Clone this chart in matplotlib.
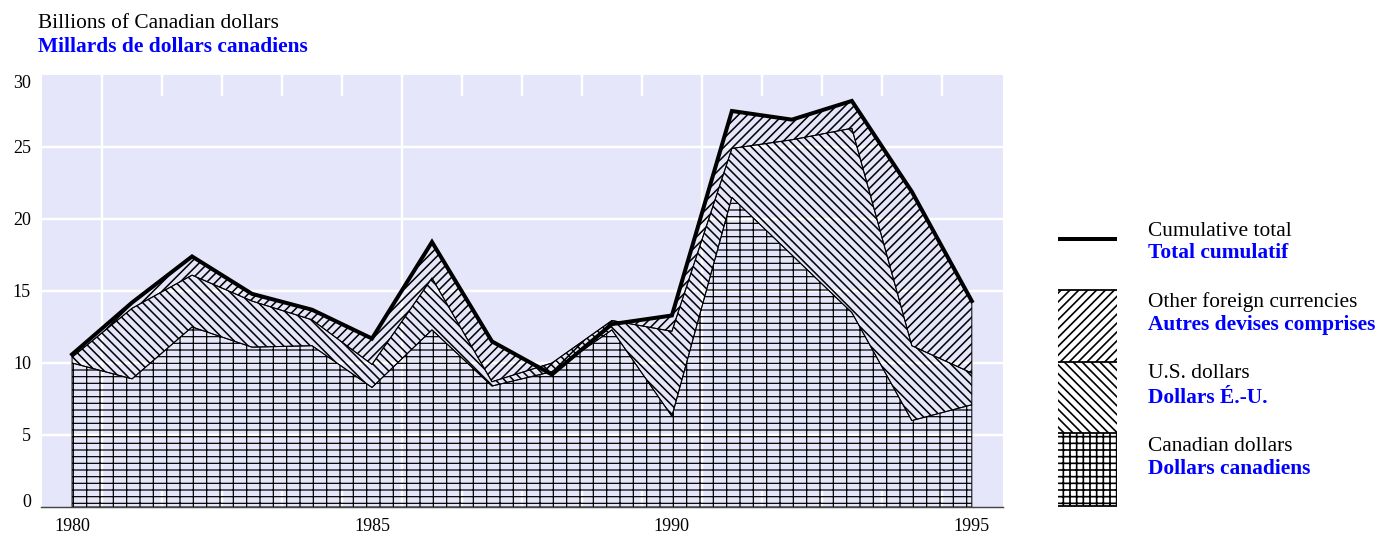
import matplotlib
matplotlib.use("Agg")
import matplotlib.pyplot as plt
from matplotlib.patches import Rectangle

# ---------------- data ----------------
years = list(range(1980, 1996))
# cumulative levels (billions of Canadian dollars)
canadian = [10.0, 8.9, 12.5, 11.1, 11.2, 8.3, 12.3, 8.4, 9.4, 12.3, 6.3, 21.5, 17.5, 13.5, 6.0, 7.1]
canadian_plus_us = [10.4, 13.8, 16.1, 14.3, 13.0, 9.9, 15.9, 8.7, 10.0, 12.95, 12.2, 24.9, 25.5, 26.3, 11.2, 9.3]
cumulative_total = [10.6, 14.2, 17.4, 14.8, 13.7, 11.7, 18.4, 11.5, 9.2, 12.7, 13.3, 27.5, 26.9, 28.2, 21.9, 14.3]

y_ticks = [0, 5, 10, 15, 20, 25, 30]
y_tick_labels = ["0", "5", "10", "15", "20", "25", "30"]
x_tick_years = [1980, 1985, 1990, 1995]
x_tick_labels = ["1980", "1985", "1990", "1995"]

title_en = "Billions of Canadian dollars"
title_fr = "Millards de dollars canadiens"
legend_en = ["Cumulative total", "Other foreign currencies", "U.S. dollars", "Canadian dollars"]
legend_fr = ["Total cumulatif", "Autres devises comprises", "Dollars É.-U.", "Dollars canadiens"]

# ---------------- style ----------------
plt.rcParams["font.family"] = ["Liberation Serif", "DejaVu Serif"]
plt.rcParams["hatch.linewidth"] = 1.2

BG = "#E6E6FA"
BLUE = "#0000FF"
DPI = 80
W, H = 1378, 537
fig = plt.figure(figsize=(W / DPI, H / DPI), dpi=DPI)
fig.patch.set_facecolor("white")

L, R, B, T = 41.5, 1003, 507, 74.5
ax = fig.add_axes([L / W, 1 - B / H, (R - L) / W, (B - T) / H])
ax.set_facecolor(BG)
ax.set_xlim(1979.49, 1995.52)
ax.set_ylim(0, 30 * (B - T) / (507 - 75))


def set_hlw(artist, hlw):
    if hasattr(artist, "set_hatch_linewidth"):
        artist.set_hatch_linewidth(hlw)


def hfill(axis, x, y1, y2, hatch, hlw, z, lw=0.9):
    with plt.rc_context({"hatch.linewidth": hlw}):
        c = axis.fill_between(x, y1, y2, facecolor="none", edgecolor="black",
                              hatch=hatch, lw=lw, zorder=z)
    set_hlw(c, hlw)
    return c


# white grid and ticks (between years)
for v in y_ticks[1:-1]:
    ax.axhline(v, color="white", lw=2.2, zorder=0.5)
for yr in years[:-1]:
    xpos = yr + 0.5
    if (yr - years[0]) % 5 == 0:
        ax.axvline(xpos, color="white", lw=2.2, zorder=0.5)
    else:
        ax.vlines(xpos, 0, 0.04, transform=ax.get_xaxis_transform(), color="white", lw=2.2, zorder=0.5)
        ax.vlines(xpos, 0.951, 1, transform=ax.get_xaxis_transform(), color="white", lw=2.2, zorder=0.5)

# areas
hfill(ax, years, 0, canadian, "--|", 1.1, 2)
hfill(ax, years, canadian, canadian_plus_us, "\\\\\\", 1.4, 3)
hfill(ax, years, canadian_plus_us, cumulative_total, "///", 1.4, 4)
ax.plot(years, cumulative_total, color="black", lw=3.6, zorder=5, solid_joinstyle="miter")

for s in ["left", "right", "top"]:
    ax.spines[s].set_visible(False)
ax.spines["bottom"].set_color("#444444")
ax.spines["bottom"].set_linewidth(1.3)
ax.spines["bottom"].set_zorder(6)

ax.set_xticks(x_tick_years)
ax.set_xticklabels(x_tick_labels, fontsize=16.2)
ax.tick_params(axis="x", length=0, pad=10)
ax.set_yticks(y_ticks)
ax.set_yticklabels(y_tick_labels, fontsize=16.2)
ax.tick_params(axis="y", length=0, pad=9.5)
ylabels = ax.get_yticklabels()
ylabels[0].set_verticalalignment("baseline")
ylabels[-1].set_verticalalignment("top")

# ---------------- overlay (titles + legend) in pixel coords ----------------
ov = fig.add_axes([0, 0, 1, 1], facecolor="none")
ov.set_xlim(0, W)
ov.set_ylim(H, 0)
ov.axis("off")

FS = 19.2
ov.text(38.3, 27.7, title_en, fontsize=FS, color="black", va="baseline")
ov.text(38.3, 51.7, title_fr, fontsize=FS, color=BLUE, fontweight="bold", va="baseline")

lx0, lx1 = 1058, 1117
ov.plot([lx0, lx1], [239, 239], color="black", lw=3.6, solid_capstyle="butt")
patch_rows = [(290, 362, "///"), (362, 433, "\\\\\\"), (433, 506, "++")]
for y0, y1, h in patch_rows:
    with plt.rc_context({"hatch.linewidth": 1.5}):
        rect = Rectangle((lx0, y0), lx1 - lx0, y1 - y0, facecolor="none",
                         edgecolor="black", hatch=h, lw=0)
    set_hlw(rect, 1.5)
    ov.add_patch(rect)
for yy in [290, 362, 433, 506]:
    ov.plot([lx0, lx1], [yy, yy], color="black", lw=1.6, solid_capstyle="butt")

tx = 1148.3
en_base = [235.7, 306.7, 378.3, 450.7]
fr_base = [258.0, 330.0, 402.7, 474.3]
for en, fr, ye, yf in zip(legend_en, legend_fr, en_base, fr_base):
    ov.text(tx, ye, en, fontsize=FS, color="black", va="baseline")
    ov.text(tx, yf, fr, fontsize=FS, color=BLUE, fontweight="bold", va="baseline")

fig.savefig("out.png", dpi=DPI)
